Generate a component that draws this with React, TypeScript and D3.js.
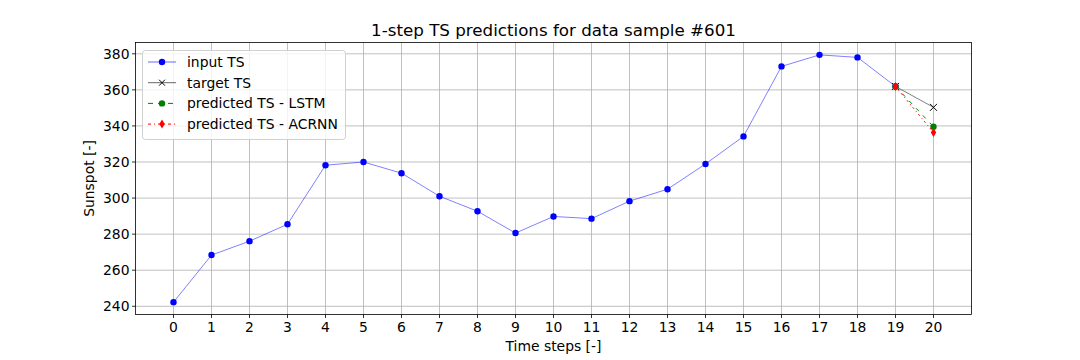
import React from "react";
import * as d3 from "d3";

const steps = d3.range(0, 21);
const inputTS = [242.3, 268.4, 276.1, 285.5, 318.2, 320.0, 313.8, 301.0, 292.7, 280.6, 289.8, 288.6, 298.3, 304.9, 318.9, 334.2, 373.0, 379.4, 378.0, 361.9];
const targetX = [19, 20];
const targetTS = [361.9, 350.3];
const lstmX = [19, 20];
const lstmTS = [361.9, 339.6];
const acrnnX = [19, 20];
const acrnnTS = [361.9, 336.4];
const yTicks = [240, 260, 280, 300, 320, 340, 360, 380];

const W = 1080, H = 360;
const L = 135.5, R = 971.5, T = 42.5, B = 314.5;
const FONT = "DejaVu Sans, sans-serif";

export default function App() {
  const x = d3.scaleLinear().domain([-1, 21]).range([L, R]);
  const allY = [...inputTS, ...targetTS, ...lstmTS, ...acrnnTS];
  const ymin = d3.min(allY)!, ymax = d3.max(allY)!;
  const pad = (ymax - ymin) * 0.05;
  const y = d3.scaleLinear().domain([ymin - pad, ymax + pad]).range([B, T]);
  const line = d3.line<[number, number]>().x(d => x(d[0])).y(d => y(d[1]));
  const inPts: [number, number][] = inputTS.map((v, i) => [steps[i], v]);
  const tgPts: [number, number][] = targetTS.map((v, i) => [targetX[i], v]);
  const lsPts: [number, number][] = lstmTS.map((v, i) => [lstmX[i], v]);
  const acPts: [number, number][] = acrnnTS.map((v, i) => [acrnnX[i], v]);
  const diamond = (cx: number, cy: number, s = 4.5) => `M${cx},${cy - s}L${cx + s * 0.6},${cy}L${cx},${cy + s}L${cx - s * 0.6},${cy}Z`;
  const cross = (cx: number, cy: number, s = 3.5) => `M${cx - s},${cy - s}L${cx + s},${cy + s}M${cx - s},${cy + s}L${cx + s},${cy - s}`;

  const legendItems = [
    { label: "input TS", color: "blue", dash: "", kind: "o", w: 0.6 },
    { label: "target TS", color: "black", dash: "", kind: "x", w: 0.6 },
    { label: "predicted TS - LSTM", color: "green", dash: "5,5", kind: "o", w: 1 },
    { label: "predicted TS - ACRNN", color: "red", dash: "3,3,1,3", kind: "d", w: 1 },
  ];

  return (
    <svg width={W} height={H} style={{ position: "absolute", left: 0, top: 0, background: "white" }} fontFamily={FONT}>
      {steps.map(s => <line key={"gx" + s} x1={x(s)} x2={x(s)} y1={T} y2={B} stroke="#b0b0b0" strokeWidth={0.8} />)}
      {yTicks.map(t => <line key={"gy" + t} x1={L} x2={R} y1={y(t)} y2={y(t)} stroke="#b0b0b0" strokeWidth={0.8} />)}
      <path d={line(inPts)!} fill="none" stroke="blue" strokeWidth={0.5} />
      {inPts.map((p, i) => <circle key={"i" + i} cx={x(p[0])} cy={y(p[1])} r={3.2} fill="blue" />)}
      <path d={line(tgPts)!} fill="none" stroke="black" strokeWidth={0.5} />
      {tgPts.map((p, i) => <path key={"t" + i} d={cross(x(p[0]), y(p[1]))} stroke="black" strokeWidth={1} />)}
      <path d={line(lsPts)!} fill="none" stroke="green" strokeWidth={1} strokeDasharray="4,6" />
      {lsPts.map((p, i) => <circle key={"l" + i} cx={x(p[0])} cy={y(p[1])} r={3.2} fill="green" />)}
      <path d={line(acPts)!} fill="none" stroke="red" strokeWidth={1} strokeDasharray="2,3,1,3" />
      {acPts.map((p, i) => <path key={"a" + i} d={diamond(x(p[0]), y(p[1]))} fill="red" />)}
      <rect x={L} y={T} width={R - L} height={B - T} fill="none" stroke="black" strokeWidth={0.8} />
      {steps.map(s => (
        <g key={"tx" + s}>
          <line x1={x(s)} x2={x(s)} y1={B} y2={B + 3.5} stroke="black" strokeWidth={0.8} />
          <text x={x(s)} y={B + 17} textAnchor="middle" fontSize={13.9}>{s}</text>
        </g>
      ))}
      {yTicks.map(t => (
        <g key={"ty" + t}>
          <line x1={L - 3.5} x2={L} y1={y(t)} y2={y(t)} stroke="black" strokeWidth={0.8} />
          <text x={L - 6} y={y(t) + 5} textAnchor="end" fontSize={13.9}>{t}</text>
        </g>
      ))}
      <text x={(L + R) / 2} y={351} textAnchor="middle" fontSize={13.9}>Time steps [-]</text>
      <text transform={`translate(94,${(T + B) / 2}) rotate(-90)`} textAnchor="middle" fontSize={13.9}>Sunspot [-]</text>
      <text x={(L + R) / 2} y={36} textAnchor="middle" fontSize={16.7}>1-step TS predictions for data sample #601</text>
      <rect x={142.5} y={50.5} width={203} height={89} rx={3} fill="white" fillOpacity={0.8} stroke="#d0d0d0" strokeWidth={1} />
      {legendItems.map((it, i) => {
        const cy = 62 + i * 20.7;
        return (
          <g key={"lg" + i}>
            <line x1={148} x2={176} y1={cy} y2={cy} stroke={it.color} strokeWidth={it.w} strokeDasharray={it.dash} />
            {it.kind === "o" && <circle cx={162} cy={cy} r={3.2} fill={it.color} />}
            {it.kind === "x" && <path d={cross(162, cy, 3)} stroke="black" strokeWidth={1} />}
            {it.kind === "d" && <path d={diamond(162, cy)} fill="red" />}
            <text x={187} y={cy + 5} fontSize={13.9}>{it.label}</text>
          </g>
        );
      })}
    </svg>
  );
}
